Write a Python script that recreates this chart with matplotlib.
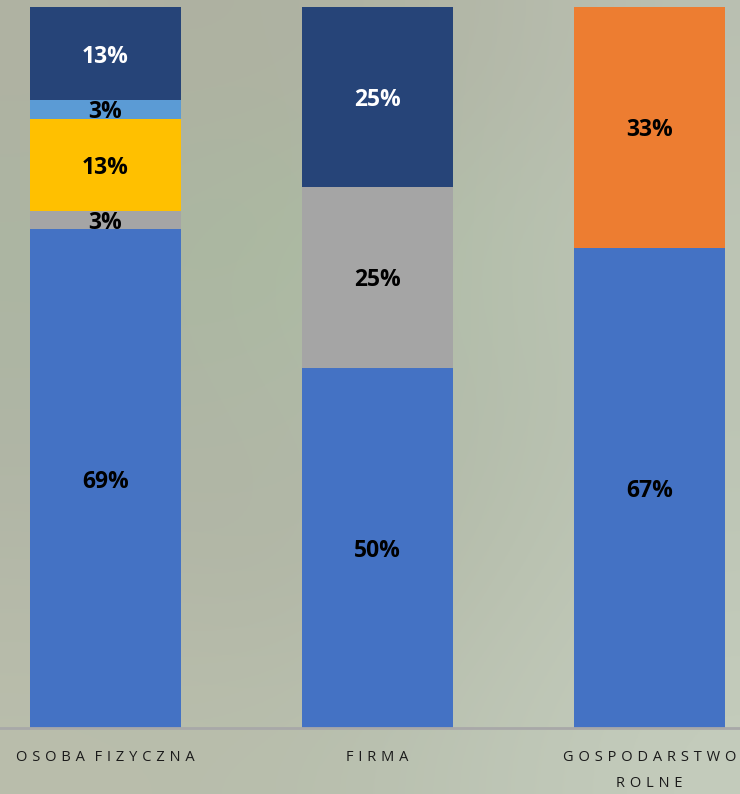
import numpy as np
import matplotlib.pyplot as plt

plt.rcParams['font.family'] = ['Open Sans', 'DejaVu Sans']

# ---- data
categories = ['OSOBA FIZYCZNA', 'FIRMA', 'GOSPODARSTWO\nROLNE']
series_colors = ['#4472C4', '#ED7D31', '#A5A5A5', '#FFC000', '#5B9BD5', '#264478']
series_values = [
    [69.2, 50.0, 66.6],   # blue
    [0.0, 0.0, 33.4],     # orange
    [2.5, 25.0, 0.0],     # gray
    [12.8, 0.0, 0.0],     # yellow
    [2.6, 0.0, 0.0],      # light blue
    [12.9, 25.0, 0.0],    # dark blue
]
series_labels = [
    ['69%', '50%', '67%'],
    ['', '', '33%'],
    ['3%', '25%', ''],
    ['13%', '', ''],
    ['3%', '', ''],
    ['13%', '25%', ''],
]
label_colors = ['black', 'black', 'black', 'black', 'black', 'white']

fig = plt.figure(figsize=(7.4, 7.94), dpi=100)

# soft photo-like background
bg = fig.add_axes([0, 0, 1, 1], zorder=-10)
grid = np.array([
    [[176, 178, 163], [174, 177, 161], [178, 182, 166], [186, 192, 178]],
    [[172, 182, 162], [168, 186, 158], [180, 192, 172], [190, 198, 182]],
    [[174, 180, 164], [176, 184, 166], [178, 188, 170], [188, 196, 180]],
    [[180, 184, 168], [176, 180, 164], [182, 190, 172], [192, 200, 184]],
    [[186, 190, 172], [184, 190, 172], [188, 196, 180], [196, 204, 188]],
]) / 255.0
bg.imshow(grid, aspect='auto', interpolation='bicubic', extent=[0, 1, 0, 1])
bg.set_axis_off()

ax = fig.add_axes([0, 66 / 794, 1, 721 / 794])
ax.patch.set_alpha(0)

x = np.arange(len(categories))
bottom = np.zeros(len(categories))
for vals, col, labs, tcol in zip(series_values, series_colors, series_labels, label_colors):
    vals = np.array(vals)
    ax.bar(x, vals, 0.555, bottom=bottom, color=col, linewidth=0)
    for xi, b, v, lab in zip(x, bottom, vals, labs):
        if lab:
            ax.text(xi, b + v / 2, lab, ha='center', va='center_baseline',
                    color=tcol, fontsize=16.5, fontweight='bold')
    bottom += vals

ax.set_xlim(-0.388, 2.333)
ax.set_ylim(0, 100)
for s in ['top', 'right', 'left']:
    ax.spines[s].set_visible(False)
ax.spines['bottom'].set_color('#A8A8A8')
ax.spines['bottom'].set_linewidth(2)
ax.set_yticks([])
ax.set_xticks(x)
# letter-spaced tick labels
sp = '\u2004'
spaced = ['\n'.join((sp + sp).join(sp.join(w) for w in line.split(' '))
                    for line in c.split('\n')) for c in categories]
ax.set_xticklabels(spaced, fontsize=10.5, color='#1a1a1a', linespacing=1.95)
ax.tick_params(axis='x', length=0, pad=16)

fig.savefig('out.png', dpi=100)
